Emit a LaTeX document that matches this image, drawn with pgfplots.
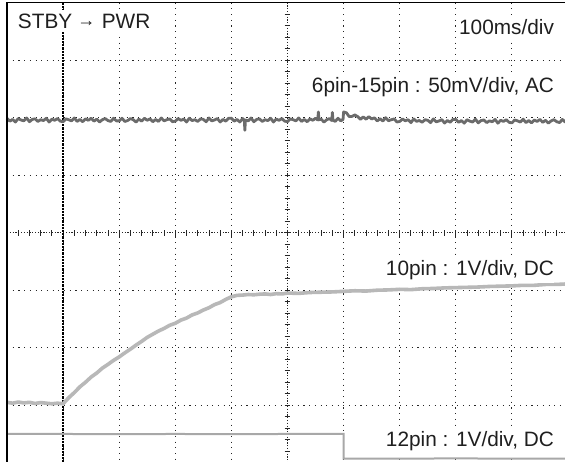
\documentclass[border=0pt]{standalone}
\usepackage{pgfplots}
\pgfplotsset{compat=1.18}
\usepackage{fontspec}
\setmainfont{Liberation Sans}
\definecolor{traceA}{gray}{0.42}
\definecolor{traceB}{gray}{0.72}
\definecolor{traceC}{gray}{0.66}
\definecolor{txt}{gray}{0.12}
\tikzset{
  grids/.style={black!85, line width=1pt, dash pattern=on 1.1pt off 4.6pt},
  centre/.style={black!85, line width=1pt, dash pattern=on 1.2pt off 1.6pt},
  lab/.style={font=\fontsize{20.8}{24}\selectfont, text=txt, fill=white, inner xsep=0pt, inner ysep=4pt, outer sep=0pt},
}
\begin{document}
\begin{tikzpicture}
\useasboundingbox (0,0) rectangle (565pt,461pt);
\fill[white] (0,0) rectangle (565pt,461pt);
\clip (0,0) rectangle (565pt,461pt);
\begin{axis}[
  scale only axis, width=561pt, height=460pt,
  at={(7pt,-1.7pt)}, anchor=south west,
  xmin=0, xmax=10, ymin=-4, ymax=4,
  hide axis, clip=false,
]
% grid
\pgfplotsinvokeforeach{1,2,3,4,6,7,8,9}{\draw[grids] (axis cs:#1,4) -- (axis cs:#1,-4);}
\pgfplotsinvokeforeach{-3,-2,-1,1,2,3}{\draw[grids] (axis cs:0,#1) -- (axis cs:10,#1);}
% centre cross
\draw[centre] (axis cs:5,4) -- (axis cs:5,-4);
\draw[centre] (axis cs:0,0) -- (axis cs:10,0);
\pgfplotsinvokeforeach{1,...,39}{\draw[black!85, line width=0.9pt] (axis cs:4.95,{-4+0.2*#1}) -- (axis cs:5.05,{-4+0.2*#1});}
\pgfplotsinvokeforeach{1,...,49}{\draw[black!85, line width=0.9pt] (axis cs:{0.2*#1},-0.05) -- (axis cs:{0.2*#1},0.05);}
% trigger line
\draw[black, line width=1.8pt, dash pattern=on 2.2pt off 1pt] (axis cs:1,4) -- (axis cs:1,-4);
% 6pin-15pin trace
\addplot[traceA, line width=2.8pt, line join=round, no markers] coordinates {
(0.00,1.99)(0.05,1.94)(0.10,1.97)(0.15,1.925)(0.20,1.985)(0.25,1.96)(0.30,1.945)(0.35,1.995)(0.40,1.93)(0.45,1.97)
(0.50,1.98)(0.55,1.935)(0.60,1.965)(0.65,1.95)(0.70,1.99)(0.75,1.925)(0.80,1.975)(0.85,1.955)(0.90,1.985)(0.95,1.94)
(1.00,1.93)(1.05,1.98)(1.10,1.965)(1.15,1.945)(1.20,1.995)(1.25,1.935)(1.30,1.97)(1.35,1.93)(1.40,1.98)(1.45,1.955)
(1.50,1.99)(1.55,1.94)(1.60,1.975)(1.65,1.925)(1.70,1.965)(1.75,1.985)(1.80,1.95)(1.85,1.935)(1.90,1.99)(1.95,1.945)
(2.00,1.945)(2.05,1.99)(2.10,1.935)(2.15,1.95)(2.20,1.985)(2.25,1.965)(2.30,1.925)(2.35,1.975)(2.40,1.94)(2.45,1.99)
(2.50,1.955)(2.55,1.98)(2.60,1.93)(2.65,1.97)(2.70,1.935)(2.75,1.995)(2.80,1.945)(2.85,1.965)(2.90,1.98)(2.95,1.93)
(3.00,1.94)(3.05,1.985)(3.10,1.955)(3.15,1.975)(3.20,1.925)(3.25,1.99)(3.30,1.95)(3.35,1.965)(3.40,1.935)(3.45,1.98)
(3.50,1.97)(3.55,1.93)(3.60,1.995)(3.65,1.945)(3.70,1.96)(3.75,1.985)(3.80,1.925)(3.85,1.97)(3.90,1.94)(3.95,1.99)
(4.00,1.99)(4.05,1.94)(4.10,1.97)(4.15,1.925)(4.20,1.985)(4.23,1.96)(4.24,1.78)(4.25,1.96)(4.30,1.945)(4.35,1.995)(4.40,1.93)(4.45,1.97)
(4.50,1.98)(4.55,1.935)(4.60,1.965)(4.65,1.95)(4.70,1.99)(4.75,1.925)(4.80,1.975)(4.85,1.955)(4.90,1.985)(4.95,1.94)
(5.00,1.93)(5.05,1.98)(5.10,1.965)(5.15,1.945)(5.20,1.995)(5.25,1.935)(5.30,1.97)(5.35,1.93)(5.40,1.98)(5.45,1.955)
(5.50,1.99)(5.54,1.96)(5.55,2.10)(5.56,1.965)(5.60,1.975)(5.65,1.925)(5.70,1.965)(5.75,1.985)(5.79,1.95)(5.80,2.09)(5.81,1.96)(5.85,1.935)(5.90,1.99)(5.95,1.945)
(5.99,1.97)(6.00,2.10)(6.05,2.086)(6.10,2.019)(6.15,2.023)(6.20,2.048)(6.25,2.02)(6.30,1.972)(6.35,2.015)(6.40,1.974)(6.45,2.018)
(6.50,1.978)(6.55,1.998)(6.60,1.944)(6.65,1.981)(6.70,1.942)(6.75,2.0)(6.80,1.947)(6.85,1.965)(6.90,1.978)(6.95,1.926)
(7.00,1.934)(7.05,1.978)(7.10,1.946)(7.15,1.965)(7.20,1.914)(7.25,1.978)(7.30,1.937)(7.35,1.951)(7.40,1.921)(7.45,1.965)
(7.50,1.955)(7.55,1.914)(7.60,1.979)(7.65,1.928)(7.70,1.943)(7.75,1.967)(7.80,1.907)(7.85,1.951)(7.90,1.921)(7.95,1.97)
(8.00,1.97)(8.05,1.92)(8.10,1.95)(8.15,1.905)(8.20,1.965)(8.25,1.94)(8.30,1.925)(8.35,1.975)(8.40,1.91)(8.45,1.95)
(8.50,1.96)(8.55,1.915)(8.60,1.945)(8.65,1.93)(8.70,1.97)(8.75,1.905)(8.80,1.955)(8.85,1.935)(8.90,1.965)(8.95,1.92)
(9.00,1.91)(9.05,1.96)(9.10,1.945)(9.15,1.925)(9.20,1.975)(9.25,1.915)(9.30,1.95)(9.35,1.91)(9.40,1.96)(9.45,1.935)
(9.50,1.97)(9.55,1.92)(9.60,1.955)(9.65,1.905)(9.70,1.945)(9.75,1.965)(9.80,1.93)(9.85,1.915)(9.90,1.97)(9.95,1.925)(10.00,1.95)
};
% 10pin trace
\addplot[traceB, line width=3.6pt, line join=round, no markers] coordinates {
(0.0,-2.95)(0.1,-2.965)(0.2,-2.945)(0.3,-2.96)(0.4,-2.95)(0.5,-2.97)(0.6,-2.955)(0.7,-2.965)(0.8,-2.975)(0.9,-2.965)
(1.0,-2.975)(1.1,-2.87)(1.2,-2.78)(1.3,-2.68)(1.4,-2.6)(1.5,-2.51)(1.6,-2.44)(1.7,-2.355)(1.8,-2.29)(1.9,-2.22)
(2.0,-2.16)(2.1,-2.09)(2.2,-2.025)(2.3,-1.955)(2.4,-1.89)(2.5,-1.82)(2.6,-1.765)(2.7,-1.71)(2.8,-1.665)(2.9,-1.61)
(3.0,-1.575)(3.1,-1.52)(3.2,-1.485)(3.3,-1.43)(3.4,-1.395)(3.5,-1.345)(3.6,-1.305)(3.7,-1.25)(3.8,-1.215)(3.9,-1.16)
(4.0,-1.115)(4.1,-1.09)(4.2,-1.085)(4.3,-1.075)(4.4,-1.08)(4.5,-1.07)(4.6,-1.065)(4.7,-1.075)(4.8,-1.06)(4.9,-1.065)
(5.0,-1.05)(5.2,-1.055)(5.4,-1.04)(5.6,-1.035)(5.8,-1.03)(6.0,-1.02)(6.2,-1.01)(6.4,-1.015)(6.6,-1.0)(6.8,-0.995)
(7.0,-0.985)(7.2,-0.99)(7.4,-0.975)(7.6,-0.97)(7.8,-0.96)(8.0,-0.955)(8.2,-0.95)(8.4,-0.945)(8.6,-0.935)(8.8,-0.93)
(9.0,-0.925)(9.2,-0.915)(9.4,-0.915)(9.6,-0.9)(9.8,-0.9)(10.0,-0.89)
};
% 12pin trace
\addplot[traceC, line width=2pt, no markers] coordinates {
(0,-3.50)(1,-3.50)(2,-3.505)(3,-3.50)(4,-3.505)(5,-3.50)(6,-3.50)(6,-3.93)(7,-3.93)(8,-3.925)(9,-3.93)(10,-3.93)
};
% frame (left and top)
\draw[black, line width=1.5pt] (axis cs:0,-4) -- (axis cs:0,4) -- (axis cs:10,4);
% labels
\node[lab, anchor=base west] at (axis cs:0.196,3.555) {STBY\hspace{5pt}\raisebox{2.2pt}{\fontsize{18}{20}\selectfont →}\hspace{6.5pt}PWR};
\node[lab, anchor=base east] at (axis cs:9.75,3.45) {100ms/div};
\node[lab, anchor=base east] at (axis cs:9.75,2.43) {6pin-15pin : 50mV/div, AC};
\node[lab, anchor=base east] at (axis cs:9.75,-0.736) {10pin : 1V/div, DC};
\node[lab, anchor=base east] at (axis cs:9.75,-3.71) {12pin : 1V/div, DC};
\end{axis}
\end{tikzpicture}
\end{document}
